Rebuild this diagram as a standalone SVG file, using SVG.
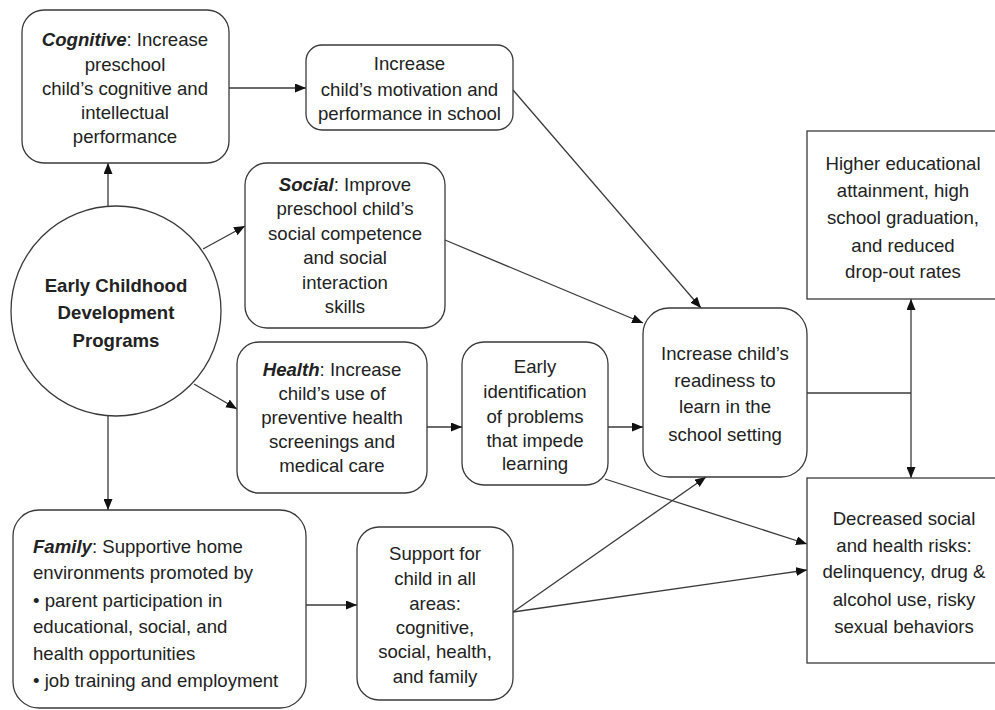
<svg xmlns="http://www.w3.org/2000/svg" width="995" height="710" viewBox="0 0 995 710">
<defs>
<style>
.box{fill:#fff;stroke:#3a3a3a;stroke-width:1.3}
.t{font-family:"Liberation Sans",Arial,sans-serif;font-size:18.6px;fill:#222;text-anchor:middle}
.l{text-anchor:start}
.b{font-weight:bold}
.bi{font-weight:bold;font-style:italic}
.c{fill:none;stroke:#3a3a3a;stroke-width:1.3}
</style>
<marker id="ah" markerUnits="userSpaceOnUse" markerWidth="11" markerHeight="9" refX="11" refY="4.5" orient="auto">
<path d="M0,0 L11,4.5 L0,9 z" fill="#111"/>
</marker>
</defs>
<rect width="995" height="710" fill="#fff"/>

<g id="connectors">
<path class="c" d="M229,88 L306,88" marker-end="url(#ah)"/>
<path class="c" d="M108,206 L108,163" marker-end="url(#ah)"/>
<path class="c" d="M203,249 L245,226" marker-end="url(#ah)"/>
<path class="c" d="M194,384 L237,409" marker-end="url(#ah)"/>
<path class="c" d="M108,416 L108,510" marker-end="url(#ah)"/>
<path class="c" d="M513,90 L701,308" marker-end="url(#ah)"/>
<path class="c" d="M445,240 L643,323" marker-end="url(#ah)"/>
<path class="c" d="M427,427 L462,427" marker-end="url(#ah)"/>
<path class="c" d="M608,427 L643,427" marker-end="url(#ah)"/>
<path class="c" d="M605,479 L807,544" marker-end="url(#ah)"/>
<path class="c" d="M306,605 L357,605" marker-end="url(#ah)"/>
<path class="c" d="M513,612 L706,477" marker-end="url(#ah)"/>
<path class="c" d="M513,612 L807,570" marker-end="url(#ah)"/>
<path class="c" d="M807,393 L911,393"/>
<path class="c" d="M911,393 L911,299" marker-end="url(#ah)"/>
<path class="c" d="M911,393 L911,478" marker-end="url(#ah)"/>
</g>

<g id="cognitive">
<rect class="box" x="22" y="10" width="207" height="153" rx="22"/>
<text class="t" x="125" y="46"><tspan class="bi">Cognitive</tspan>: Increase</text>
<text class="t" x="125" y="70.5">preschool</text>
<text class="t" x="125" y="94.5">child’s cognitive and</text>
<text class="t" x="125" y="119">intellectual</text>
<text class="t" x="125" y="143">performance</text>
</g>

<g id="motivation">
<rect class="box" x="306" y="45" width="207" height="85" rx="16"/>
<text class="t" x="409.5" y="70">Increase</text>
<text class="t" x="409.5" y="95.5">child’s motivation and</text>
<text class="t" x="409.5" y="120">performance in school</text>
</g>

<g id="ecd">
<circle class="box" cx="116" cy="311" r="105"/>
<text class="t b" x="116" y="292">Early Childhood</text>
<text class="t b" x="116" y="319">Development</text>
<text class="t b" x="116" y="347">Programs</text>
</g>

<g id="social">
<rect class="box" x="245" y="163" width="200" height="165" rx="22"/>
<text class="t" x="345" y="191"><tspan class="bi">Social</tspan>: Improve</text>
<text class="t" x="345" y="215">preschool child’s</text>
<text class="t" x="345" y="240">social competence</text>
<text class="t" x="345" y="264">and social</text>
<text class="t" x="345" y="289">interaction</text>
<text class="t" x="345" y="313">skills</text>
</g>

<g id="health">
<rect class="box" x="237" y="342" width="190" height="151" rx="22"/>
<text class="t" x="332" y="376"><tspan class="bi">Health</tspan>: Increase</text>
<text class="t" x="332" y="399.5">child’s use of</text>
<text class="t" x="332" y="424">preventive health</text>
<text class="t" x="332" y="447.5">screenings and</text>
<text class="t" x="332" y="472">medical care</text>
</g>

<g id="early">
<rect class="box" x="462" y="342" width="146" height="143" rx="22"/>
<text class="t" x="535" y="373">Early</text>
<text class="t" x="535" y="398">identification</text>
<text class="t" x="535" y="423">of problems</text>
<text class="t" x="535" y="447">that impede</text>
<text class="t" x="535" y="470">learning</text>
</g>

<g id="readiness">
<rect class="box" x="643" y="308" width="164" height="169" rx="26"/>
<text class="t" x="725" y="360">Increase child’s</text>
<text class="t" x="725" y="387">readiness to</text>
<text class="t" x="725" y="413">learn in the</text>
<text class="t" x="725" y="441">school setting</text>
</g>

<g id="higher">
<rect class="box" x="807" y="131" width="200" height="168"/>
<text class="t" x="903" y="170">Higher educational</text>
<text class="t" x="903" y="197">attainment, high</text>
<text class="t" x="903" y="224">school graduation,</text>
<text class="t" x="903" y="252">and reduced</text>
<text class="t" x="903" y="278">drop-out rates</text>
</g>

<g id="decreased">
<rect class="box" x="807" y="478" width="200" height="185"/>
<text class="t" x="904" y="525">Decreased social</text>
<text class="t" x="904" y="552">and health risks:</text>
<text class="t" x="904" y="578">delinquency, drug &amp;</text>
<text class="t" x="904" y="606">alcohol use, risky</text>
<text class="t" x="904" y="633">sexual behaviors</text>
</g>

<g id="family">
<rect class="box" x="13" y="510" width="293" height="198" rx="26"/>
<text class="t l" x="33" y="553"><tspan class="bi">Family</tspan>: Supportive home</text>
<text class="t l" x="33" y="579">environments promoted by</text>
<text class="t l" x="33" y="607">• parent participation in</text>
<text class="t l" x="33" y="633">educational, social, and</text>
<text class="t l" x="33" y="660">health opportunities</text>
<text class="t l" x="33" y="687">• job training and employment</text>
</g>

<g id="support">
<rect class="box" x="357" y="527" width="156" height="173" rx="22"/>
<text class="t" x="435" y="560">Support for</text>
<text class="t" x="435" y="585">child in all</text>
<text class="t" x="435" y="610">areas:</text>
<text class="t" x="435" y="634">cognitive,</text>
<text class="t" x="435" y="658">social, health,</text>
<text class="t" x="435" y="683">and family</text>
</g>
</svg>
